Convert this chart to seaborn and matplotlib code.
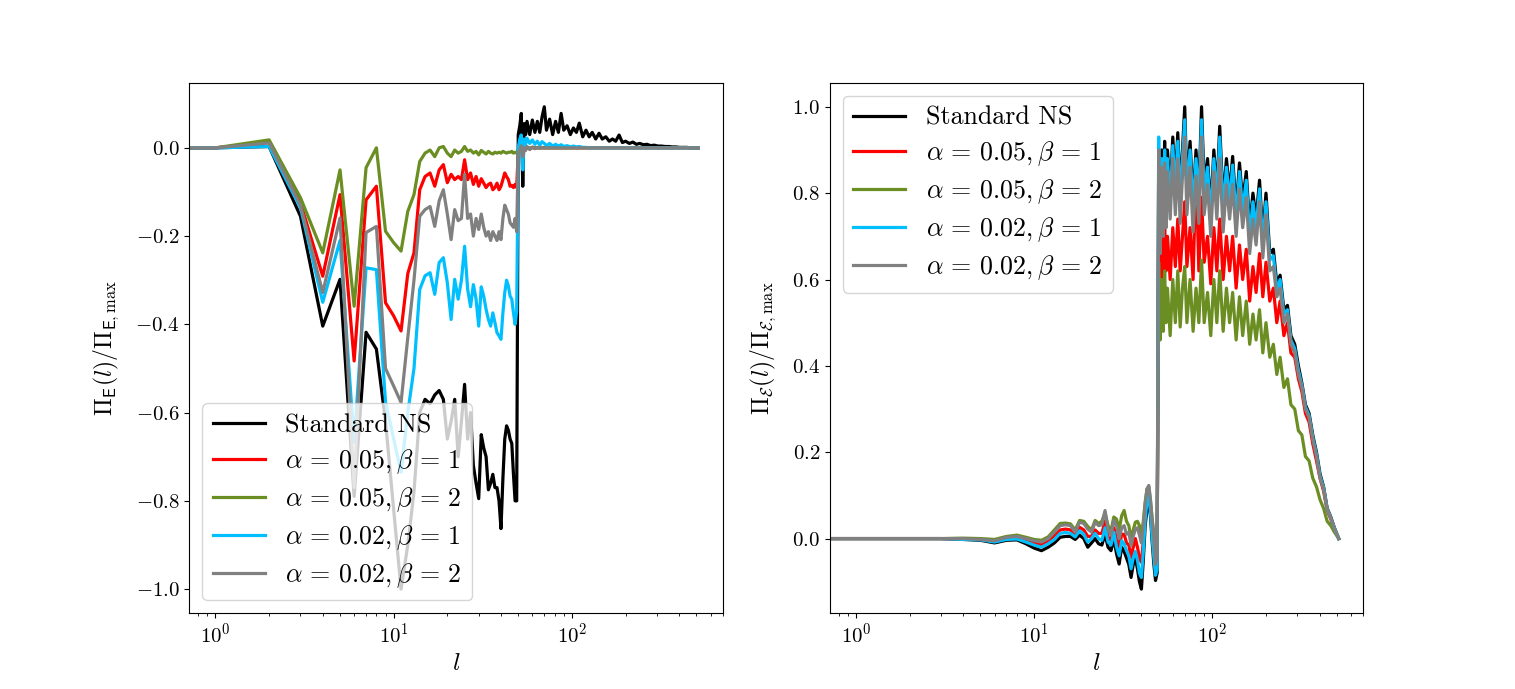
import matplotlib
matplotlib.use("Agg")
import matplotlib.pyplot as plt
import seaborn as sns
import numpy as np
import pandas as pd

plt.rcParams['font.family'] = 'serif'
plt.rcParams['font.serif'] = ['cmr10', 'DejaVu Serif']
plt.rcParams['mathtext.fontset'] = 'cm'
plt.rcParams['axes.formatter.use_mathtext'] = True
plt.rcParams['axes.unicode_minus'] = True

# ---------------- data ----------------
L = [0, 1, 2, 3, 4, 5, 6, 7, 8, 9, 10,
     11, 12, 13, 14, 15, 16, 17, 18, 19, 20,
     21, 22, 23, 24, 25, 26, 27, 28, 29, 30,
     31, 32, 33, 34, 35, 36, 37, 38, 39, 40,
     41, 42, 43, 44, 45, 46, 47, 48, 49,
     50, 51, 52, 53, 54, 55, 56, 58, 60, 62,
     64, 66, 68, 70, 72, 75, 78, 81, 84, 87,
     90, 94, 98, 102, 106, 110, 115, 120, 125, 130,
     136, 142, 148, 155, 162, 169, 176, 184, 192, 200,
     210, 220, 230, 240, 252, 264, 276, 290, 304, 318,
     333, 349, 366, 384, 402, 421, 441, 462, 484, 512]

LABELS = ["Standard NS",
          r"$\alpha\,=\,0.05, \beta\,=\,1$",
          r"$\alpha\,=\,0.05, \beta\,=\,2$",
          r"$\alpha\,=\,0.02, \beta\,=\,1$",
          r"$\alpha\,=\,0.02, \beta\,=\,2$"]
COLORS = ["black", "red", "olivedrab", "deepskyblue", "gray"]

# Left panel: energy flux Pi_E(l)/Pi_E,max
E_ns = [0.0, 0.0, 0.003, -0.155, -0.404, -0.298, -0.79, -0.418, -0.456, -0.62, -0.82,
        -1.0, -0.9, -0.78, -0.6, -0.57, -0.58, -0.56, -0.55, -0.57, -0.66,
        -0.62, -0.57, -0.70, -0.62, -0.536, -0.66, -0.60, -0.72, -0.76, -0.795,
        -0.65, -0.68, -0.70, -0.775, -0.76, -0.74, -0.77, -0.77, -0.80, -0.863,
        -0.75, -0.66, -0.63, -0.64, -0.66, -0.67, -0.74, -0.80, -0.80,
        0.03, 0.05, 0.078, -0.087, 0.055, 0.03, 0.06, 0.03, 0.063, 0.035,
        0.06, 0.035, 0.07, 0.093, 0.04, 0.065, 0.03, 0.06, 0.035, 0.078,
        0.04, 0.05, 0.03, 0.045, 0.035, 0.056, 0.025, 0.04, 0.025, 0.035,
        0.02, 0.033, 0.02, 0.025, 0.015, 0.02, 0.015, 0.029, 0.012, 0.015,
        0.01, 0.013, 0.008, 0.01, 0.007, 0.008, 0.005, 0.006, 0.004, 0.004,
        0.003, 0.003, 0.002, 0.002, 0.001, 0.001, 0.001, 0.0, 0.0, 0.0]
E_a05b1 = [0.0, 0.0, 0.012, -0.125, -0.291, -0.106, -0.483, -0.118, -0.087, -0.351, -0.381,
           -0.415, -0.285, -0.238, -0.095, -0.065, -0.057, -0.087, -0.05, -0.038, -0.079,
           -0.06, -0.072, -0.065, -0.072, -0.027, -0.072, -0.057, -0.083, -0.065, -0.087,
           -0.07, -0.08, -0.09, -0.083, -0.08, -0.095, -0.09, -0.08, -0.095, -0.087,
           -0.072, -0.057, -0.065, -0.072, -0.087, -0.085, -0.09, -0.083, -0.09,
           -0.008, -0.002, 0.003, -0.01, 0.0, -0.003, 0.001, -0.002, 0.001, 0.0,
           0.0, 0.0, 0.0, 0.0, 0.0, 0.0, 0.0, 0.0, 0.0, 0.0,
           0.0, 0.0, 0.0, 0.0, 0.0, 0.0, 0.0, 0.0, 0.0, 0.0,
           0.0, 0.0, 0.0, 0.0, 0.0, 0.0, 0.0, 0.0, 0.0, 0.0,
           0.0, 0.0, 0.0, 0.0, 0.0, 0.0, 0.0, 0.0, 0.0, 0.0,
           0.0, 0.0, 0.0, 0.0, 0.0, 0.0, 0.0, 0.0, 0.0, 0.0]
E_a05b2 = [0.0, 0.0, 0.018, -0.113, -0.238, -0.05, -0.359, -0.045, 0.0, -0.189, -0.215,
           -0.234, -0.144, -0.106, -0.031, -0.012, -0.005, -0.02, 0.0, 0.003, -0.012,
           -0.02, -0.005, -0.012, -0.008, 0.003, -0.008, -0.005, -0.012, -0.008, -0.016,
           -0.006, -0.01, -0.014, -0.008, -0.012, -0.014, -0.01, -0.012, -0.01, -0.012,
           -0.008, -0.01, -0.012, -0.01, -0.01, -0.008, -0.012, -0.01, -0.012,
           -0.005, 0.0, -0.004, 0.002, -0.003, 0.0, -0.001, 0.0, 0.0, 0.0,
           0.0, 0.0, 0.0, 0.0, 0.0, 0.0, 0.0, 0.0, 0.0, 0.0,
           0.0, 0.0, 0.0, 0.0, 0.0, 0.0, 0.0, 0.0, 0.0, 0.0,
           0.0, 0.0, 0.0, 0.0, 0.0, 0.0, 0.0, 0.0, 0.0, 0.0,
           0.0, 0.0, 0.0, 0.0, 0.0, 0.0, 0.0, 0.0, 0.0, 0.0,
           0.0, 0.0, 0.0, 0.0, 0.0, 0.0, 0.0, 0.0, 0.0, 0.0]
E_a02b1 = [0.0, 0.0, 0.003, -0.136, -0.35, -0.21, -0.667, -0.272, -0.276, -0.576, -0.66,
           -0.735, -0.60, -0.50, -0.321, -0.29, -0.283, -0.332, -0.26, -0.249, -0.306,
           -0.389, -0.298, -0.343, -0.30, -0.223, -0.32, -0.36, -0.31, -0.343, -0.404,
           -0.315, -0.336, -0.366, -0.389, -0.404, -0.374, -0.396, -0.419, -0.426, -0.434,
           -0.374, -0.328, -0.30, -0.313, -0.336, -0.343, -0.374, -0.40, -0.37,
           0.0, 0.02, 0.029, -0.05, 0.02, 0.008, 0.022, 0.01, 0.018, 0.008,
           0.015, 0.006, 0.014, 0.01, 0.005, 0.01, 0.004, 0.008, 0.004, 0.007,
           0.003, 0.005, 0.002, 0.004, 0.002, 0.003, 0.001, 0.001, 0.0, 0.0,
           0.0, 0.0, 0.0, 0.0, 0.0, 0.0, 0.0, 0.0, 0.0, 0.0,
           0.0, 0.0, 0.0, 0.0, 0.0, 0.0, 0.0, 0.0, 0.0, 0.0,
           0.0, 0.0, 0.0, 0.0, 0.0, 0.0, 0.0, 0.0, 0.0, 0.0]
E_a02b2 = [0.0, 0.0, 0.011, -0.13, -0.328, -0.159, -0.77, -0.192, -0.178, -0.50, -0.54,
           -0.577, -0.43, -0.30, -0.155, -0.14, -0.133, -0.178, -0.12, -0.095, -0.15,
           -0.208, -0.14, -0.165, -0.16, -0.06, -0.16, -0.15, -0.20, -0.16, -0.185,
           -0.15, -0.18, -0.20, -0.19, -0.21, -0.19, -0.20, -0.21, -0.19, -0.208,
           -0.16, -0.13, -0.14, -0.15, -0.17, -0.175, -0.18, -0.16, -0.19,
           -0.01, -0.005, 0.005, -0.02, 0.0, -0.006, 0.003, -0.004, 0.002, -0.002,
           0.001, -0.001, 0.0, 0.0, 0.0, 0.0, 0.0, 0.0, 0.0, 0.0,
           0.0, 0.0, 0.0, 0.0, 0.0, 0.0, 0.0, 0.0, 0.0, 0.0,
           0.0, 0.0, 0.0, 0.0, 0.0, 0.0, 0.0, 0.0, 0.0, 0.0,
           0.0, 0.0, 0.0, 0.0, 0.0, 0.0, 0.0, 0.0, 0.0, 0.0,
           0.0, 0.0, 0.0, 0.0, 0.0, 0.0, 0.0, 0.0, 0.0, 0.0]

# Right panel: flux Pi_calE(l)/Pi_calE,max
C_ns = [0.0, 0.0, 0.0, 0.0, -0.002, -0.004, -0.01, -0.004, -0.003, -0.012, -0.022,
        -0.028, -0.02, -0.01, 0.003, 0.005, 0.005, -0.002, 0.008, 0.0, -0.02,
        -0.01, 0.0, -0.012, -0.015, 0.01, -0.02, -0.028, 0.0, -0.035, -0.059,
        -0.02, -0.03, -0.045, -0.06, -0.09, -0.06, -0.045, -0.07, -0.1, -0.117,
        -0.05, 0.03, 0.07, 0.088, 0.05, -0.01, -0.06, -0.097, -0.08,
        0.88, 0.70, 0.90, 0.75, 0.92, 0.78, 0.90, 0.80, 0.93, 0.82,
        0.94, 0.80, 0.90, 1.00, 0.82, 0.92, 0.78, 0.90, 0.80, 1.00,
        0.82, 0.88, 0.76, 0.90, 0.80, 0.955, 0.78, 0.88, 0.80, 0.885,
        0.76, 0.87, 0.78, 0.85, 0.72, 0.80, 0.74, 0.83, 0.70, 0.80,
        0.66, 0.67, 0.59, 0.61, 0.53, 0.54, 0.47, 0.45, 0.40, 0.36,
        0.31, 0.29, 0.24, 0.20, 0.15, 0.12, 0.07, 0.05, 0.025, 0.0]
C_a05b1 = [0.0, 0.0, 0.0, 0.0, -0.001, -0.002, -0.006, 0.0, 0.002, -0.004, -0.01,
           -0.014, -0.006, 0.006, 0.02, 0.022, 0.02, 0.008, 0.026, 0.02, 0.005,
           0.005, 0.02, 0.012, 0.012, 0.04, 0.004, -0.004, 0.025, 0.0, -0.02,
           0.01, 0.01, -0.01, -0.015, -0.045, -0.02, 0.0, -0.02, -0.045, -0.055,
           -0.005, 0.06, 0.1, 0.11, 0.075, 0.02, -0.02, -0.07, -0.055,
           0.72, 0.55, 0.70, 0.60, 0.73, 0.62, 0.70, 0.60, 0.72, 0.63,
           0.74, 0.62, 0.70, 0.78, 0.63, 0.72, 0.60, 0.86, 0.62, 0.79,
           0.64, 0.70, 0.59, 0.72, 0.62, 0.74, 0.60, 0.70, 0.62, 0.70,
           0.58, 0.68, 0.60, 0.67, 0.55, 0.63, 0.57, 0.66, 0.56, 0.64,
           0.55, 0.58, 0.50, 0.55, 0.47, 0.50, 0.43, 0.42, 0.37, 0.34,
           0.29, 0.27, 0.22, 0.18, 0.14, 0.11, 0.065, 0.045, 0.02, 0.0]
C_a05b2 = [0.0, 0.0, 0.0, 0.0, 0.001, 0.0, -0.002, 0.005, 0.008, 0.003, -0.002,
           -0.004, 0.004, 0.02, 0.035, 0.036, 0.034, 0.02, 0.042, 0.04, 0.028,
           0.02, 0.042, 0.035, 0.04, 0.06, 0.03, 0.018, 0.05, 0.045, 0.02,
           0.053, 0.065, 0.04, 0.03, 0.0, 0.02, 0.038, 0.04, 0.03, 0.01,
           0.04, 0.085, 0.115, 0.12, 0.085, 0.045, 0.01, -0.03, -0.02,
           0.64, 0.46, 0.60, 0.48, 0.62, 0.50, 0.58, 0.47, 0.60, 0.50,
           0.62, 0.49, 0.58, 0.63, 0.50, 0.60, 0.48, 0.58, 0.50, 0.645,
           0.50, 0.57, 0.47, 0.60, 0.50, 0.62, 0.48, 0.58, 0.50, 0.57,
           0.46, 0.56, 0.47, 0.55, 0.45, 0.52, 0.46, 0.53, 0.43, 0.50,
           0.42, 0.45, 0.38, 0.42, 0.35, 0.37, 0.31, 0.30, 0.25, 0.24,
           0.19, 0.18, 0.14, 0.12, 0.09, 0.07, 0.04, 0.03, 0.015, 0.0]
C_a02b1 = [0.0, 0.0, 0.0, 0.0, -0.002, -0.003, -0.008, -0.002, -0.001, -0.008, -0.015,
           -0.02, -0.012, -0.002, 0.012, 0.014, 0.012, 0.004, 0.018, 0.01, -0.008,
           0.0, 0.012, 0.0, -0.004, 0.025, -0.008, -0.015, 0.015, -0.02, -0.04,
           -0.005, -0.012, -0.028, -0.04, -0.07, -0.045, -0.03, -0.05, -0.08, -0.09,
           -0.03, 0.045, 0.085, 0.1, 0.06, 0.0, -0.045, -0.085, -0.07,
           0.93, 0.68, 0.88, 0.73, 0.90, 0.76, 0.88, 0.78, 0.91, 0.80,
           0.92, 0.78, 0.88, 0.97, 0.80, 0.90, 0.76, 0.88, 0.78, 0.97,
           0.80, 0.86, 0.74, 0.88, 0.78, 0.93, 0.76, 0.86, 0.78, 0.865,
           0.74, 0.85, 0.76, 0.83, 0.70, 0.78, 0.72, 0.81, 0.68, 0.78,
           0.645, 0.655, 0.575, 0.60, 0.52, 0.53, 0.46, 0.44, 0.39, 0.355,
           0.305, 0.285, 0.235, 0.195, 0.145, 0.118, 0.068, 0.048, 0.024, 0.0]
C_a02b2 = [0.0, 0.0, 0.0, 0.0, 0.0, -0.002, -0.005, 0.003, 0.005, 0.0, -0.005,
           -0.008, 0.0, 0.015, 0.03, 0.032, 0.03, 0.015, 0.038, 0.035, 0.022,
           0.015, 0.038, 0.03, 0.032, 0.065, 0.02, 0.008, 0.042, 0.03, 0.0,
           0.025, 0.03, 0.01, 0.015, -0.016, 0.005, 0.022, 0.025, 0.008, -0.01,
           0.03, 0.08, 0.115, 0.123, 0.09, 0.04, 0.0, -0.06, -0.04,
           0.90, 0.66, 0.86, 0.70, 0.87, 0.72, 0.85, 0.74, 0.88, 0.75,
           0.88, 0.73, 0.84, 0.93, 0.75, 0.86, 0.71, 0.84, 0.73, 0.93,
           0.75, 0.82, 0.70, 0.85, 0.74, 0.88, 0.71, 0.82, 0.74, 0.82,
           0.70, 0.81, 0.72, 0.79, 0.66, 0.74, 0.68, 0.78, 0.65, 0.75,
           0.62, 0.63, 0.56, 0.58, 0.50, 0.52, 0.45, 0.43, 0.38, 0.35,
           0.30, 0.28, 0.23, 0.19, 0.14, 0.115, 0.068, 0.048, 0.024, 0.0]

LEFT = [E_ns, E_a05b1, E_a05b2, E_a02b1, E_a02b2]
RIGHT = [C_ns, C_a05b1, C_a05b2, C_a02b1, C_a02b2]

# ---------------- plot ----------------
fig, axes = plt.subplots(1, 2, figsize=(15.15, 6.89), dpi=100)

for ax, series in zip(axes, [LEFT, RIGHT]):
    for vals, lab, col in zip(series, LABELS, COLORS):
        df = pd.DataFrame({"l": L, "v": vals})
        sns.lineplot(data=df, x="l", y="v", ax=ax, color=col, linewidth=2.3,
                     label=lab, estimator=None, sort=False)
    ax.set_xscale("log")
    ax.set_xlim(0.714, 705)
    ax.set_xlabel(r"$l$", fontsize=18)
    ax.tick_params(axis="both", labelsize=15)

axes[0].set_ylabel(r"$\Pi_{\mathsf{E}}(l)/\Pi_{\mathsf{E},\max}$", fontsize=17, labelpad=10)
axes[1].set_ylabel(r"$\Pi_{\mathcal{E}}(l)/\Pi_{\mathcal{E},\max}$", fontsize=17, labelpad=10)
axes[0].legend(loc="lower left", fontsize=18.7, labelspacing=0.36)
axes[1].legend(loc="upper left", fontsize=18.7, labelspacing=0.36)

fig.savefig("out.png", dpi=100)
